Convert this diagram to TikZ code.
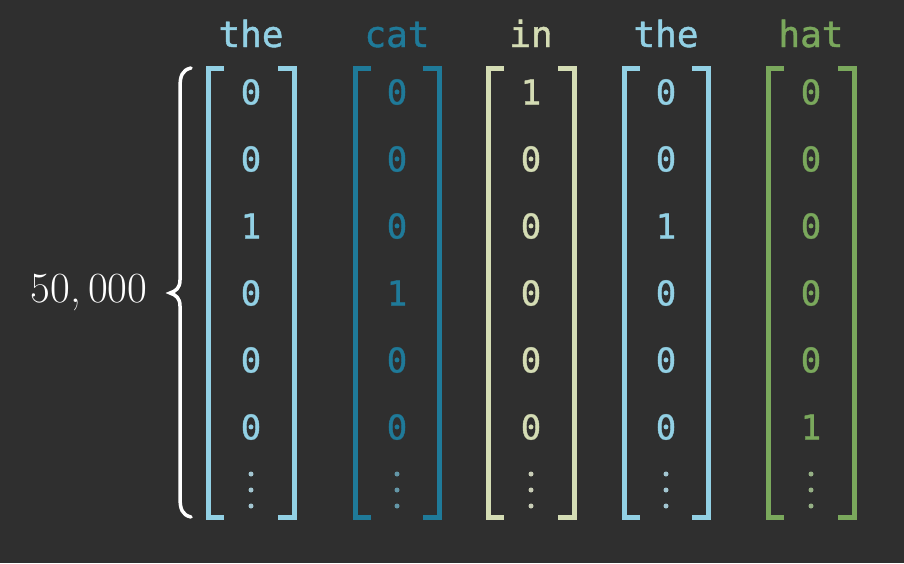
\documentclass[tikz,border=0pt]{standalone}
\usepackage{fontspec}
\newfontfamily\monofnt[FakeBold=1.2]{DejaVu Sans Mono}
\definecolor{bgc}{HTML}{2F2F2F}
\definecolor{cblue}{HTML}{92D0E4}
\definecolor{cteal}{HTML}{1F7A99}
\definecolor{cpale}{HTML}{D4DCB4}
\definecolor{cgreen}{HTML}{7AA85C}
\tikzset{
  lbl/.style={font=\monofnt\fontsize{36}{36}\selectfont, anchor=base, inner sep=0pt},
  num/.style={font=\monofnt\fontsize{34}{34}\selectfont, anchor=center, inner sep=0pt},
  brk/.style={line width=5pt, line cap=butt},
  dotc/.style={inner sep=0pt, minimum size=5pt, circle},
}
\begin{document}
\begin{tikzpicture}[x=1pt,y=-1pt]
\fill[bgc] (0,0) rectangle (904,563);
\useasboundingbox (0,0) rectangle (904,563);
% brace
\draw[white, line width=3.5pt, line cap=round]
  (191,68) .. controls (182,70) and (180,76) .. (180,88)
  -- (180,280) .. controls (180,288) and (176,291) .. (170,293)
  .. controls (176,295) and (180,298) .. (180,306)
  -- (180,497) .. controls (180,509) and (182,515) .. (191,517);
\node[font=\fontsize{43}{43}\selectfont, text=white, anchor=base, inner sep=0pt] (count) at (89,302) {50,\,000};
% columns
\foreach \name/\cx/\hw/\col/\word/\vals in {
  c1/251/43/cblue/the/{0,0,1,0,0,0},
  c2/397/42/cteal/cat/{0,0,0,1,0,0},
  c3/531/43/cpale/in/{1,0,0,0,0,0},
  c4/666/42/cblue/the/{0,0,1,0,0,0},
  c5/811/43/cgreen/hat/{0,0,0,0,0,1}} {
  \node[lbl, text=\col] (\name-word) at (\cx,47) {\word};
  \draw[brk, \col] (\cx-\hw+16,68) -- (\cx-\hw,68) -- (\cx-\hw,517) -- (\cx-\hw+16,517);
  \draw[brk, \col] (\cx+\hw-16,68) -- (\cx+\hw,68) -- (\cx+\hw,517) -- (\cx+\hw-16,517);
  \foreach \v [count=\i] in \vals {
    \node[num, text=\col] (\name-r\i) at (\cx,{92+67*(\i-1)}) {\v};
  }
  \foreach \j in {0,1,2} {
    \node[dotc, fill=\col!70!gray!80!white] (\name-d\j) at (\cx,{474+16*\j}) {};
  }
}
\end{tikzpicture}
\end{document}
